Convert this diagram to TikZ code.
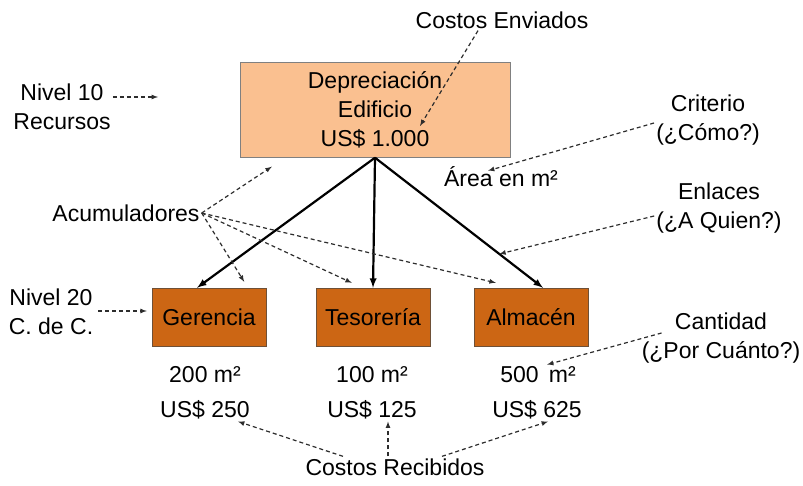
\documentclass[tikz,border=0pt]{standalone}
\usepackage{fontspec}
\setmainfont{Liberation Sans}
\usetikzlibrary{calc,positioning,arrows}

\definecolor{topfill}{RGB}{250,192,144}
\definecolor{ccfill}{RGB}{204,102,20}
\definecolor{ccline}{RGB}{110,80,55}
\definecolor{note}{RGB}{45,45,45}

\begin{document}
\begin{tikzpicture}[x=1pt,y=-1pt,
    txt/.style={font=\fontsize{23}{29}\selectfont, align=center, inner sep=2pt},
    topbox/.style={txt, draw=gray, fill=topfill, minimum width=270, minimum height=95},
    ccbox/.style={txt, draw=ccline, fill=ccfill, minimum width=114, minimum height=58},
    link/.style={-latex, line width=2.2pt},
    hint/.style={-latex, note, line width=1.2pt, dash pattern=on 4pt off 3pt}]
  \useasboundingbox (0,0) rectangle (803,486);

  % boxes
  \node[topbox] (dep) at (375,110) {Depreciación\\Edificio\\US\$ 1.000};
  \node[ccbox] (ger) at (209,317) {Gerencia};
  \node[ccbox] (tes) at (373,317) {Tesorería};
  \node[ccbox] (alm) at (531,317) {Almacén};

  \draw[link] (dep.south) -- ([xshift=-12]ger.north);
  \draw[link] (dep.south) -- (tes.north);
  \draw[link] (dep.south) -- coordinate[pos=0.74] (lnk) ([xshift=12]alm.north);

  % amounts
  \node[txt] (a1) at (205,375) {200 m²};
  \node[txt] (a2) at (372,375) {100 m²};
  \node[txt] (a3) at (538,375) {500\, m²};
  \node[txt] (c1) at (205,410) {US\$ 250};
  \node[txt] (c2) at (372,410) {US\$ 125};
  \node[txt] (c3) at (537,410) {US\$ 625};

  % notes
  \node[txt] (cen) at (502,20) {Costos Enviados};
  \node[txt] (n10) at (62,107) {Nivel 10\\Recursos};
  \coordinate (n10end) at (158,97);
  \node[txt] (acu) at (126,213) {Acumuladores};
  \node[txt] (n20) at (51,312) {Nivel 20\\C. de C.};
  \node[txt] (cri) at (708,120) {Criterio\\(¿Cómo?)};
  \node[txt] (area) at (501,177) {Área en m²};
  \node[txt] (enl) at (719,208) {Enlaces\\(¿A Quien?)};
  \node[txt] (can) at (721,338) {Cantidad\\(¿Por Cuánto?)};
  \node[txt] (cr) at (395,467) {Costos Recibidos};

  \draw[hint] ([xshift=-24]cen.south) -- ([xshift=45,yshift=-16]dep.center);
  \draw[hint] ([yshift=10]n10.east) -- (n10end);
  \draw[hint] (acu.east) -- ([xshift=32,yshift=-9]dep.south west);
  \draw[hint] (acu.east) -- ([xshift=-22,yshift=6]ger.north east);
  \draw[hint] (acu.east) -- ([xshift=36,yshift=5]tes.north west);
  \draw[hint] (acu.east) -- ([xshift=22,yshift=5]alm.north west);
  \draw[hint] ([xshift=3,yshift=1]n20.east) -- ([xshift=-5,yshift=6]ger.west);
  \draw[hint] ([yshift=-3]cri.west) -- ([xshift=-13,yshift=-6]area.north);
  \draw[hint] ([yshift=-8]enl.west) -- (lnk);
  \draw[hint] ([xshift=22,yshift=5]can.west) -- ([xshift=9]a3.north);
  \draw[hint] ([xshift=-52]cr.north) -- ([xshift=33]c1.south);
  \draw[hint] ([xshift=-7]cr.north) -- ([xshift=16]c2.south);
  \draw[hint] ([xshift=47]cr.north) -- ([xshift=11]c3.south);
\end{tikzpicture}
\end{document}
